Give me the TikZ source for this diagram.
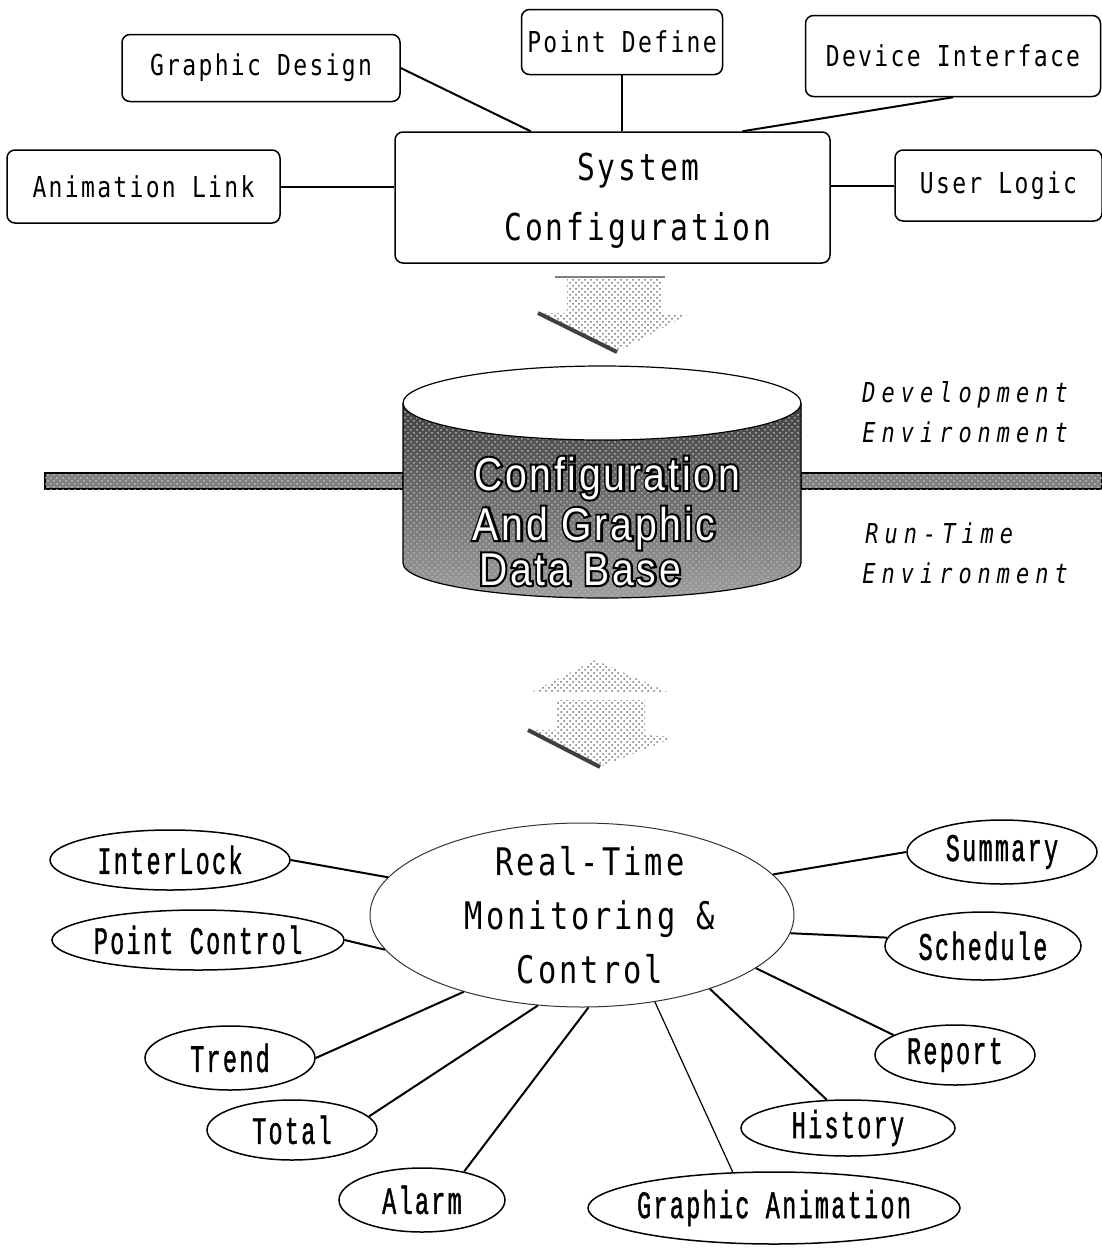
\documentclass[tikz,border=0pt]{standalone}
\usepackage{fontspec}
\usetikzlibrary{shapes.geometric,patterns}
\newfontfamily\boxfont[FakeStretch=0.8,LetterSpace=8]{DejaVu Sans Mono}
\newfontfamily\ellfont[FakeStretch=0.6,LetterSpace=6,FakeBold=1]{Liberation Mono}
\newfontfamily\envfont[FakeStretch=0.8,LetterSpace=22]{DejaVu Sans Mono Oblique}
\newfontfamily\cylfont[FakeStretch=0.85,LetterSpace=6]{Liberation Sans}
\newfontfamily\cyledge[FakeStretch=0.85,LetterSpace=6,FakeBold=9]{Liberation Sans}
\newcommand\outlined[1]{\rlap{\cyledge\color{black}#1}\textcolor{white}{#1}}

\begin{document}
\begin{tikzpicture}[x=0.5pt,y=-0.5pt,
	cfgbox/.style={draw,rounded corners=4pt,line width=0.75pt,inner sep=0pt,font=\boxfont\fontsize{14.4}{17}\selectfont},
	rtell/.style={draw,ellipse,line width=0.75pt,inner sep=0pt,font=\ellfont\fontsize{19.5}{22}\selectfont},
	link/.style={line width=1pt},
	thinlink/.style={line width=0.6pt},
	envtext/.style={anchor=base west,inner sep=0pt,font=\envfont\fontsize{13.7}{16}\selectfont},
	dbtext/.style={anchor=base,inner sep=0pt,font=\cylfont\fontsize{23}{26}\selectfont},
	grain/.style={pattern=crosshatch dots,pattern color=black!55}]
				\useasboundingbox (0,0) rectangle (1102,1255);
				
				% configuration tools
				\node[cfgbox,minimum width=217.5pt,minimum height=65.5pt] (syscfg) at (612.5,197.5) {};
				\node[anchor=north,align=center,inner sep=0pt,font=\boxfont\fontsize{18.5}{30}\selectfont] (systext) at (638,153) {System\\Configuration};
				\node[cfgbox,minimum width=100.5pt,minimum height=32.5pt] (ptdef) at (622,42) {Point Define};
				\node[cfgbox,minimum width=139pt,minimum height=33.5pt] (gdesign) at (261,68) {Graphic Design};
				\node[cfgbox,minimum width=147.5pt,minimum height=40.5pt] (devif) at (953,56) {Device Interface};
				\node[cfgbox,minimum width=136.5pt,minimum height=36.5pt] (anlink) at (143.5,186.5) {Animation Link};
				\node[cfgbox,minimum width=103.5pt,minimum height=35.5pt] (usrlogic) at (998.5,185.5) {User Logic};
				
				\draw[link] (gdesign.east) -- (syscfg.141.6);
				\draw[thinlink] (ptdef.south) -- (ptdef.south |- syscfg.north);
				\draw[link] (devif.south) -- (syscfg.27);
				\draw[link] (anlink.east) -- (anlink.east -| syscfg.west);
				\draw[link] (usrlogic.west) -- (usrlogic.west -| syscfg.east);
				
				% arrow down to the data base
				\fill[grain] (567,278) -- (662,278) -- (662,314) -- (687,315) -- (617,352) -- (538,313) -- (567,313) -- cycle;
				\draw[line width=2pt,black!75] (538,313) -- (617,352);
				\draw[thinlink,black!50] (555,277) -- (665,277);
				
				% environment border
				\draw[fill=black!50,line width=0.6pt,postaction={pattern=crosshatch dots,pattern color=black!25}] (45,473) rectangle (403,489);
				\draw[fill=black!50,line width=0.6pt,postaction={pattern=crosshatch dots,pattern color=black!25}] (801,473) rectangle (1102,489);
				
				% data base cylinder
				\fill[top color=black!75,bottom color=black!38,postaction={pattern=crosshatch dots,pattern color=white!70!black}] (403,403) -- (403,563) arc[start angle=180,end angle=360,x radius=99.5pt,y radius=17.5pt] -- (801,403) -- cycle;
				\draw[line width=0.6pt] (403,403) -- (403,563) arc[start angle=180,end angle=360,x radius=99.5pt,y radius=17.5pt] -- (801,403);
				\draw[line width=0.6pt,fill=white] (602,403) ellipse[x radius=99.5pt,y radius=18.5pt];
				\node[dbtext] (db1) at (607,490) {\outlined{Configuration}};
				\node[dbtext] (db2) at (594,540) {\outlined{And Graphic}};
				\node[dbtext] (db3) at (580,585) {\outlined{Data Base}};
				
				\node[envtext] (dev1) at (862,402) {Development};
				\node[envtext] (dev2) at (862,442) {Environment};
				\node[envtext] (run1) at (865,543) {Run-Time};
				\node[envtext] (run2) at (862,583) {Environment};
				
				% arrow down to run-time
				\fill[grain] (595,660) -- (670,693) -- (532,692) -- cycle;
				\fill[grain] (557,700) -- (645,700) -- (645,735) -- (675,737) -- (600,767) -- (528,730) -- (557,730) -- cycle;
				\draw[line width=2pt,black!75] (528,730) -- (600,767);
				
				% run-time functions
				\node[draw,ellipse,line width=0.5pt,black!80,inner sep=0pt,minimum width=212pt,minimum height=92pt] (rtmc) at (582,915) {};
				\node[anchor=north,align=center,inner sep=0pt,font=\boxfont\fontsize{19}{27}\selectfont] (rttext) at (590,846) {Real-Time\\Monitoring \&\\Control};
				\node[rtell,minimum width=120pt,minimum height=30pt] (interlock) at (170,860) {\makebox[0pt]{InterLock}};
				\node[rtell,minimum width=146pt,minimum height=30pt] (pointctl) at (198,940) {\makebox[0pt]{Point Control}};
				\node[rtell,minimum width=85pt,minimum height=32pt] (trend) at (230,1058) {\makebox[0pt]{Trend}};
				\node[rtell,minimum width=85pt,minimum height=30pt] (total) at (292,1130) {\makebox[0pt]{Total}};
				\node[rtell,minimum width=83pt,minimum height=32pt] (alarm) at (422,1200) {\makebox[0pt]{Alarm}};
				\node[rtell,minimum width=186pt,minimum height=36pt] (ganim) at (774,1208) {\makebox[0pt]{Graphic Animation}};
				\node[rtell,minimum width=107pt,minimum height=28pt] (history) at (848,1128) {\makebox[0pt]{History}};
				\node[rtell,minimum width=80pt,minimum height=30pt] (report) at (955,1055) {\makebox[0pt]{Report}};
				\node[rtell,minimum width=98pt,minimum height=34pt] (schedule) at (983,946) {\makebox[0pt]{Schedule}};
				\node[rtell,minimum width=95pt,minimum height=32pt] (summary) at (1002,852) {\makebox[0pt]{Summary}};
				
				\draw[link] (interlock.east) -- (rtmc.169);
				\draw[link] (pointctl.east) -- (rtmc.190);
				\draw[link] (trend.east) -- (rtmc.213);
				\draw[link] (total.10) -- (rtmc.244);
				\draw[link] (alarm.34) -- (rtmc.274);
				\draw[thinlink] (ganim.139) -- (rtmc.310);
				\draw[link] (history.127) -- (rtmc.330);
				\draw[link] (report.162) -- (rtmc.343);
				\draw[link] (schedule.175) -- (rtmc.355);
				\draw[link] (summary.west) -- (rtmc.12);
\end{tikzpicture}
\end{document}
